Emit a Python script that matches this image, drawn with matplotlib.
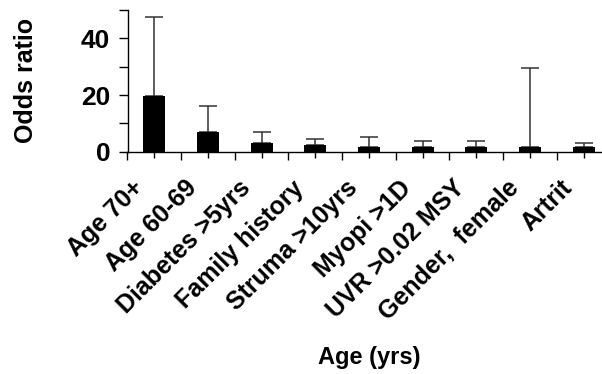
import matplotlib.pyplot as plt
import matplotlib.transforms as mtransforms
import numpy as np

# risk factors and odds ratios
factors = ['Age 70+', 'Age 60-69', 'Diabetes >5yrs', 'Family history',
           'Struma >10yrs', 'Myopi >1D', 'UVR >0.02 MSY', 'Gender,  female', 'Artrit']
odds_ratio = [19.7, 7.0, 3.1, 2.4, 1.7, 1.7, 1.7, 1.7, 1.5]
upper_ci = [47.7, 16.2, 7.1, 4.4, 5.1, 3.6, 3.6, 29.4, 3.0]

plt.rcParams['font.family'] = ['Liberation Sans', 'DejaVu Sans']
plt.rcParams['font.weight'] = 'bold'

fig = plt.figure(figsize=(6.02, 3.74), dpi=100)
ax = fig.add_axes([127.5 / 602, 1 - 151.7 / 374, 483 / 602, 141.7 / 374])

x = np.arange(len(factors))
yerr = [np.zeros(len(factors)), np.array(upper_ci) - np.array(odds_ratio)]
ax.bar(x, odds_ratio, width=0.41, color='black', zorder=2)
ax.errorbar(x, odds_ratio, yerr=yerr, fmt='none', ecolor='#333333',
            elinewidth=1.1, capsize=6.5, capthick=1.1, zorder=1)

ax.set_xlim(-0.5, len(factors) - 0.5)
ax.set_ylim(0, 50)
ax.set_yticks([0, 20, 40])
ax.set_yticks([10, 30, 50], minor=True)
# long ticks between categories, short labelled ticks under the bars
ax.set_xticks(np.arange(len(factors) + 1) - 0.5)
ax.set_xticklabels([])
ax.set_xticks(x, minor=True)
ax.set_xticklabels(factors, minor=True, rotation=45, ha='right', va='baseline',
                   rotation_mode='anchor', fontsize=18, fontweight='bold')

ax.tick_params(axis='y', which='both', length=6.5, width=1, pad=6, labelsize=19)
ax.tick_params(axis='x', which='major', length=6, width=1)
ax.tick_params(axis='x', which='minor', length=4, width=1, pad=21)

# nudge the rotated labels left (after tick_params, which resets transforms)
offset = mtransforms.ScaledTranslation(-0.10, -0.03, fig.dpi_scale_trans)
for lab in ax.xaxis.get_minorticklabels():
    lab.set_transform(lab.get_transform() + offset)

for s in ['top', 'right']:
    ax.spines[s].set_visible(False)
for s in ['left', 'bottom']:
    ax.spines[s].set_linewidth(1)

ax.set_ylabel('Odds ratio', fontsize=18, fontweight='bold')
ax.yaxis.set_label_coords(-0.185, 0.5)
ax.set_xlabel('Age (yrs)', fontsize=17, fontweight='bold')
ax.xaxis.set_label_coords(0.5, -1.37)

fig.savefig('out.png', dpi=100)
